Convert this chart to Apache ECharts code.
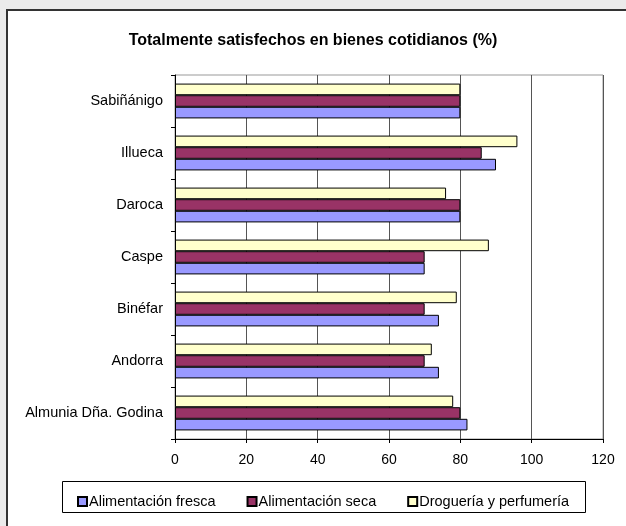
<!DOCTYPE html>
<html>
<head>
<meta charset="utf-8">
<script src="https://cdn.jsdelivr.net/npm/echarts@6/dist/echarts.min.js"></script>
<style>
html,body{margin:0;padding:0;background:#ebebeb;}
#c{width:626px;height:526px;}
</style>
</head>
<body>
<div id="c"></div>
<script>
const categories = ['Almunia Dña. Godina','Andorra','Binéfar','Caspe','Daroca','Illueca','Sabiñánigo'];
const seriesNames = ['Alimentación fresca','Alimentación seca','Droguería y perfumería'];
const fresca = [82, 74, 74, 70, 80, 90, 80];
const seca = [80, 70, 70, 70, 80, 86, 80];
const drogueria = [78, 72, 79, 88, 76, 96, 80];
const xTicks = [0, 20, 40, 60, 80, 100, 120];

const colors = ['#9999FF', '#993366', '#FFFFCC'];
const values = [fresca, seca, drogueria];

const chart = echarts.init(document.getElementById('c'), null, {renderer: 'canvas'});
const font = 'Liberation Sans, Arial, sans-serif';
// draw order reversed so that the first series sits at the bottom of each group
const order = [2, 1, 0];
chart.setOption({
  backgroundColor: '#ebebeb',
  animation: false,
  textStyle: {fontFamily: font},
  graphic: [
    {type: 'rect', z: -10, shape: {x: 7, y: 10, width: 700, height: 600},
     style: {fill: '#ffffff', stroke: '#333333', lineWidth: 2}},
    {type: 'rect', z: 0, shape: {x: 62.5, y: 481.5, width: 523, height: 31},
     style: {fill: 'none', stroke: '#000000', lineWidth: 1}}
  ],
  title: {
    text: 'Totalmente satisfechos en bienes cotidianos (%)',
    left: 'center', top: 28,
    textStyle: {fontFamily: font, fontSize: 16, fontWeight: 'bold', color: '#000'}
  },
  legend: {
    left: 72, top: 489,
    itemWidth: 9, itemHeight: 9, itemGap: 31,
    icon: 'rect',
    textStyle: {fontFamily: font, fontSize: 14.5, color: '#000', padding: [0, 0, 0, -3]},
    data: seriesNames
  },
  grid: {left: 175, right: 23, top: 75, bottom: 87, show: true, borderColor: '#999', borderWidth: 1},
  xAxis: {
    type: 'value', min: 0, max: 120, interval: 20,
    axisLine: {show: true, lineStyle: {color: '#000', width: 1}},
    axisTick: {show: true, length: 4, inside: false, lineStyle: {color: '#000'}},
    axisLabel: {color: '#000', fontSize: 14, margin: 14, fontFamily: font,
      formatter: v => xTicks.includes(v) ? String(v) : ''},
    splitLine: {show: true, lineStyle: {color: '#555', width: 1}}
  },
  yAxis: {
    type: 'category', data: categories,
    axisLine: {show: true, lineStyle: {color: '#000', width: 1}},
    axisTick: {show: true, length: 4, lineStyle: {color: '#000'}},
    axisLabel: {color: '#000', fontSize: 14.5, margin: 12, fontFamily: font},
    splitLine: {show: false}
  },
  series: order.map(i => ({
    name: seriesNames[i], type: 'bar', data: values[i],
    barGap: '0%', barCategoryGap: '33%',
    itemStyle: {color: colors[i], borderColor: '#000', borderWidth: 1}
  }))
});
</script>
</body>
</html>
